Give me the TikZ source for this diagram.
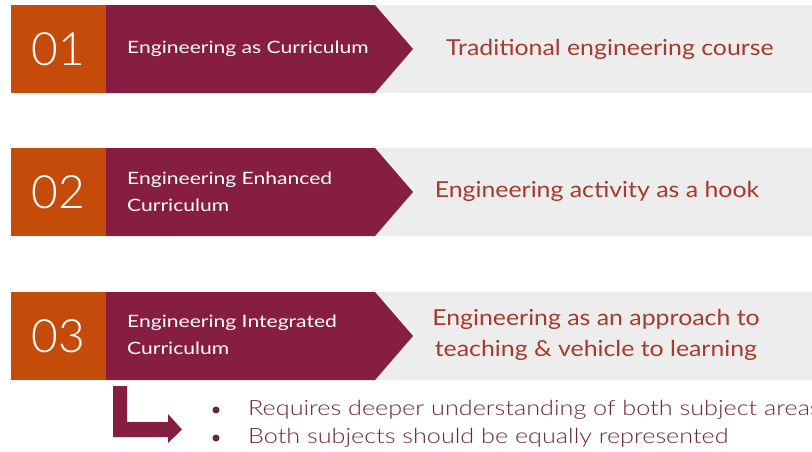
\documentclass[tikz,border=0pt]{standalone}
\usepackage{fontspec}
\setmainfont{Lato}
\newfontfamily\numfont{Lato Light}
\newfontfamily\whitefont{Lato}[FakeStretch=1.24]
\newfontfamily\rustfont{Lato}[FakeStretch=1.13]
\newfontfamily\bulletfont{Lato Light}[FakeStretch=1.2]
\definecolor{orangeC}{HTML}{C54B0B}
\definecolor{maroonC}{HTML}{861E41}
\definecolor{grayC}{HTML}{EDEDED}
\definecolor{rustC}{HTML}{A63A2C}
\definecolor{bulletC}{HTML}{6A2636}
\begin{document}
\begin{tikzpicture}[x=1pt,y=-1pt,
  numbox/.style={fill=orangeC, draw=none, minimum width=95pt, minimum height=88pt, inner sep=0pt,
    text=white, font=\numfont\fontsize{46}{46}\selectfont},
  graybox/.style={fill=grayC, draw=none},
  maroonbox/.style={fill=maroonC, draw=none},
  whitetext/.style={text=white, anchor=west, align=left, inner sep=0pt,
    font=\whitefont\fontsize{17}{27}\selectfont},
  rusttext/.style={text=rustC, align=center, inner sep=0pt,
    font=\rustfont\fontsize{22}{31}\selectfont},
  bullettext/.style={text=bulletC, anchor=west, inner sep=0pt,
    font=\bulletfont\fontsize{21}{28}\selectfont}]
\useasboundingbox[fill=white] (0,0) rectangle (812,451);
% rows
\foreach \t in {5,148,292}{
  \fill[graybox] (372,\t) rectangle (812,\t+88);
  \fill[maroonbox] (106,\t) -- (375,\t) -- (413,\t+44) -- (375,\t+88) -- (106,\t+88) -- cycle;
}
\node[numbox] (n1) at (58.5,49) {01};
\node[numbox] (n2) at (58.5,192) {02};
\node[numbox] (n3) at (58.5,336) {03};
\node[whitetext] (w1) at (127,49) {Engineering as Curriculum};
\node[whitetext] (w2) at (127,192) {Engineering Enhanced\\Curriculum};
\node[whitetext] (w3) at (127,335) {Engineering Integrated\\Curriculum};
\node[rusttext] (r1) at (610,49) {Traditional engineering course};
\node[rusttext] (r2) at (597,191) {Engineering activity as a hook};
\node[rusttext] (r3) at (596,335) {Engineering as an approach to\\teaching \& vehicle to learning};
% L arrow
\fill[maroonC] (113,386) -- (127,386) -- (127,422) -- (168,422) -- (168,414) -- (182,429.5)
  -- (168,443) -- (168,437) -- (113,437) -- cycle;
% bullets
\fill[bulletC] (216,410) circle (3.5);
\fill[bulletC] (216,438) circle (3.5);
\node[bullettext] (b1) at (248,410) {Requires deeper understanding of both subject areas};
\node[bullettext] (b2) at (248,438) {Both subjects should be equally represented};
\end{tikzpicture}
\end{document}
